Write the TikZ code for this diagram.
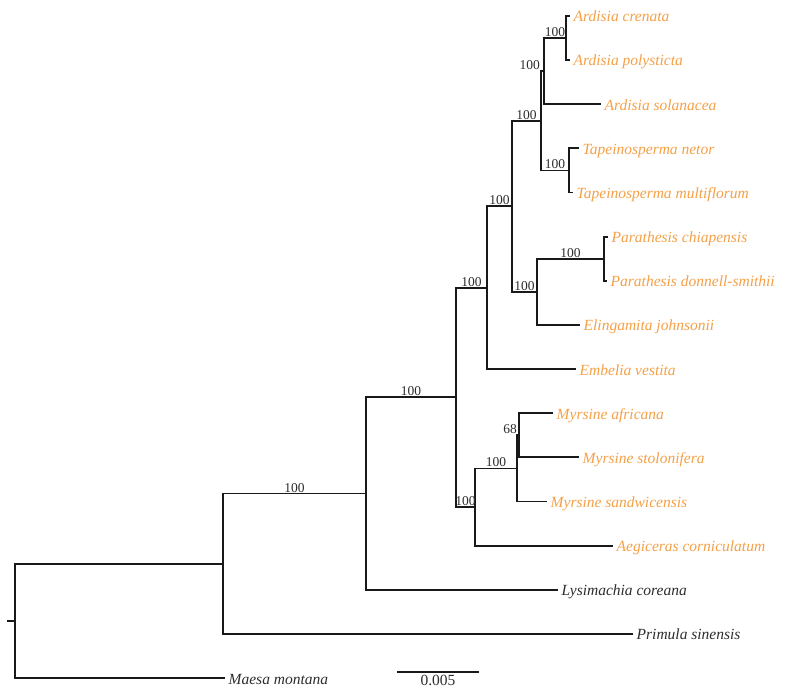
\documentclass[tikz,border=0pt]{standalone}
\usepackage{fontspec}
\setmainfont{Liberation Serif}
\usetikzlibrary{calc}
\definecolor{taxorange}{RGB}{245,160,70}
\definecolor{taxgray}{RGB}{45,45,45}
\definecolor{branchgray}{RGB}{25,25,25}

\begin{document}
\begin{tikzpicture}[x=1pt,y=-1pt,
  branch/.style={draw=branchgray,line width=1.8pt,line cap=rect},
  taxon/.style={anchor=base west,inner sep=0pt,xshift=4.5pt,yshift=-6pt,
                font=\fontsize{15.5}{18}\selectfont\itshape,text=taxorange},
  outgroup/.style={taxon,text=taxgray},
  boot/.style={anchor=base,inner sep=0pt,yshift=1.5pt,
               font=\fontsize{13.5}{15}\selectfont,text=taxgray}]
  \useasboundingbox (0,0) rectangle (791,698);
  % internal nodes
  \coordinate (base) at (8,620.8);
  \coordinate (root) at (15,620.8);
  \coordinate (nA) at (223,563.7);
  \coordinate (nB) at (366,493.5);
  \coordinate (nC) at (456,397.3);
  \coordinate (nD) at (487,287.6);
  \coordinate (nE) at (512,206.2);
  \coordinate (nF) at (541,120.7);
  \coordinate (nG) at (544,71);
  \coordinate (nH) at (566,38);
  \coordinate (nI) at (569,170.4);
  \coordinate (nJ) at (537,291.8);
  \coordinate (nK) at (604,258.7);
  \coordinate (nL) at (475,507);
  \coordinate (nM1) at (517,468.4);
  \coordinate (nM2) at (519,435.2);
  % leaf tips
  \coordinate (lCre) at (569,15.9);
  \coordinate (lPol) at (569,60);
  \coordinate (lSol) at (600,104.2);
  \coordinate (lNet) at (578,148.3);
  \coordinate (lMul) at (572,192.5);
  \coordinate (lChi) at (607,236.6);
  \coordinate (lDon) at (606,280.7);
  \coordinate (lEli) at (579,324.9);
  \coordinate (lEmb) at (575,369);
  \coordinate (lAfr) at (552,413.2);
  \coordinate (lSto) at (578,457.3);
  \coordinate (lSan) at (546,501.5);
  \coordinate (lAeg) at (612,545.6);
  \coordinate (lLys) at (557,589.7);
  \coordinate (lPri) at (632,633.9);
  \coordinate (lMae) at (224,678);

  \draw[branch] (base) -- (root);
  \draw[branch] (root) |- (nA) (root) |- (lMae);
  \draw[branch] (nA) |- (nB) (nA) |- (lPri);
  \draw[branch] (nB) |- (nC) (nB) |- (lLys);
  \draw[branch] (nC) |- (nD) (nC) |- (nL);
  \draw[branch] (nD) |- (nE) (nD) |- (lEmb);
  \draw[branch] (nE) |- (nF) (nE) |- (nJ);
  \draw[branch] (nF) |- (nG) (nF) |- (nI);
  \draw[branch] (nG) |- (nH) (nG) |- (lSol);
  \draw[branch] (nH) |- (lCre) (nH) |- (lPol);
  \draw[branch] (nI) |- (lNet) (nI) |- (lMul);
  \draw[branch] (nJ) |- (nK) (nJ) |- (lEli);
  \draw[branch] (nK) |- (lChi) (nK) |- (lDon);
  \draw[branch] (nL) |- (nM1) (nL) |- (lAeg);
  \draw[branch] (nM1) |- (nM2) (nM1) |- (lSan);
  \draw[branch] (nM2) |- (lAfr) (nM2) |- (lSto);

  \node[taxon] (tCre) at (lCre) {Ardisia crenata};
  \node[taxon] (tPol) at (lPol) {Ardisia polysticta};
  \node[taxon] (tSol) at (lSol) {Ardisia solanacea};
  \node[taxon] (tNet) at (lNet) {Tapeinosperma netor};
  \node[taxon] (tMul) at (lMul) {Tapeinosperma multiflorum};
  \node[taxon] (tChi) at (lChi) {Parathesis chiapensis};
  \node[taxon] (tDon) at (lDon) {Parathesis donnell-smithii};
  \node[taxon] (tEli) at (lEli) {Elingamita johnsonii};
  \node[taxon] (tEmb) at (lEmb) {Embelia vestita};
  \node[taxon] (tAfr) at (lAfr) {Myrsine africana};
  \node[taxon] (tSto) at (lSto) {Myrsine stolonifera};
  \node[taxon] (tSan) at (lSan) {Myrsine sandwicensis};
  \node[taxon] (tAeg) at (lAeg) {Aegiceras corniculatum};
  \node[outgroup] (tLys) at (lLys) {Lysimachia coreana};
  \node[outgroup] (tPri) at (lPri) {Primula sinensis};
  \node[outgroup] (tMae) at (lMae) {Maesa montana};

  % bootstrap support
  \node[boot] (bB) at ($(nA |- nB)!0.5!(nB)$) {100};
  \node[boot] (bC) at ($(nB |- nC)!0.5!(nC)$) {100};
  \node[boot] (bD) at ($(nC |- nD)!0.5!(nD)$) {100};
  \node[boot] (bE) at ($(nD |- nE)!0.5!(nE)$) {100};
  \node[boot] (bF) at ($(nE |- nF)!0.5!(nF)$) {100};
  \node[boot,anchor=base east,xshift=-1pt] (bG) at (nF |- nG) {100};
  \node[boot] (bH) at ($(nG |- nH)!0.5!(nH)$) {100};
  \node[boot] (bI) at ($(nF |- nI)!0.5!(nI)$) {100};
  \node[boot] (bJ) at ($(nE |- nJ)!0.5!(nJ)$) {100};
  \node[boot] (bK) at ($(nJ |- nK)!0.5!(nK)$) {100};
  \node[boot] (bL) at ($(nC |- nL)!0.5!(nL)$) {100};
  \node[boot] (bM1) at ($(nL |- nM1)!0.5!(nM1)$) {100};
  \node[boot,anchor=base east] (bM2) at (nM1 |- nM2) {68};

  % scale bar
  \coordinate (sbL) at (398,672);
  \coordinate (sbR) at (478,672);
  \draw[branch] (sbL) -- (sbR);
  \node[boot,anchor=base,yshift=0pt,font=\fontsize{15.5}{18}\selectfont] (sbT)
    at ($(sbL)!0.5!(sbR)+(0,15)$) {0.005};
\end{tikzpicture}
\end{document}
